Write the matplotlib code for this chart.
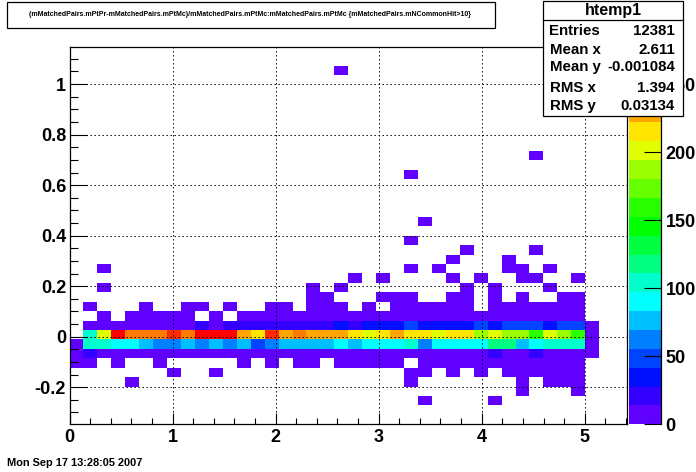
import matplotlib
matplotlib.use("Agg")
import matplotlib.pyplot as plt
from matplotlib.colors import ListedColormap, BoundaryNorm
from matplotlib.patches import Rectangle
import numpy as np

plt.rcParams['font.family'] = ['Liberation Sans', 'DejaVu Sans']
plt.rcParams['axes.unicode_minus'] = False

W, H = 696, 472
n_bins = 40
x_min, x_max = 0, 5.41
y_min, y_max = -0.347, 1.147
z_max = 277.4

title = "(mMatchedPairs.mPtPr-mMatchedPairs.mPtMc)/mMatchedPairs.mPtMc:mMatchedPairs.mPtMc {mMatchedPairs.mNCommonHit>10}"
date_label = "Mon Sep 17 13:28:05 2007"
x_ticks = [0, 1, 2, 3, 4, 5]
y_ticks = [-0.2, 0, 0.2, 0.4, 0.6, 0.8, 1]
y_labels = ['-0.2', '0', '0.2', '0.4', '0.6', '0.8', '1']
z_ticks = [0, 50, 100, 150, 200, 250]
stats_names = ['Entries', 'Mean x', 'Mean y', 'RMS x', 'RMS y']
stats_values = ['12381', '2.611', '-0.001084', '1.394', '0.03134']

# palette of the z axis, bottom to top
palette = ['#6000ff', '#3300ff', '#0010ff', '#0044ff', '#0080ff', '#00bfff', '#00ffff',
           '#00ffcc', '#00ff80', '#00ff40', '#00ff00', '#2aff00', '#66ff00', '#99ff00',
           '#e0ff00', '#ffe600', '#ffa600', '#ff7a00', '#ff2a00', '#ff0000']

# dense rows around zero, counts per x bin (first 38 bins, the rest are empty)
row_07 = [1, 20] + [5] * 28 + [20, 5, 5, 20, 5, 5, 5, 5]
row_08 = [5, 104, 104, 90, 90, 76, 62, 62, 76, 62, 76, 62, 76, 48, 62, 76, 76, 76, 76, 90,
          76, 90, 90, 90, 104, 62, 90, 90, 90, 90, 118, 118, 76, 90, 104, 104, 104, 5]
row_09 = [0, 104, 201, 270, 243, 243, 243, 257, 243, 270, 270, 270, 229, 215, 257, 229, 243, 229, 229, 229,
          215, 201, 215, 229, 215, 215, 201, 215, 215, 187, 201, 187, 187, 160, 201, 187, 160, 5]
row_10 = [0, 5, 5, 5, 5, 5, 5, 5, 5, 20, 5, 20, 20, 20, 20, 20, 20, 20, 20, 35,
          20, 35, 35, 35, 48, 35, 35, 35, 35, 48, 35, 48, 48, 48, 35, 48, 48, 5]

# sparse rows, x bins that hold a few entries
row_02 = [25, 30]
row_03 = [32, 36]
row_04 = [4, 24, 32, 34, 35, 36]
row_05 = [7, 10, 24, 25, 27, 29, 31, 32, 33, 34, 35, 36]
row_06 = [0, 1, 3, 6, 12, 14, 16, 17, 19, 20, 21, 22, 23, 25, 26, 27, 28, 29, 30, 31, 32, 33, 34, 35, 36]
row_11 = [2, 4, 5, 6, 7, 8, 10, 12, 13, 14, 15, 16, 17, 18, 19, 20, 21, 22, 23, 24, 25, 26, 27, 28, 29, 30,
          31, 32, 33, 34, 35, 36]
row_12 = [1, 5, 8, 9, 11, 14, 15, 17, 18, 19, 21, 23, 24, 25, 26, 27, 28, 30, 31, 32, 33, 34, 35, 36]
row_13 = [17, 18, 22, 23, 24, 27, 28, 30, 32, 35, 36]
row_14 = [2, 17, 19, 28, 30, 34]
row_15 = [20, 22, 27, 29, 32, 33, 36]
row_16 = [2, 24, 26, 31, 32, 34]
row_17 = [27, 31]
row_18 = [28, 33]
row_19 = [24]
row_21 = [25]
row_26 = [24]
row_28 = [33]
row_37 = [19]

counts = np.zeros((n_bins, n_bins))
for r, vals in [(7, row_07), (8, row_08), (9, row_09), (10, row_10)]:
    counts[r, :len(vals)] = vals
for r, cols in [(2, row_02), (3, row_03), (4, row_04), (5, row_05), (6, row_06), (11, row_11),
                (12, row_12), (13, row_13), (14, row_14), (15, row_15), (16, row_16), (17, row_17),
                (18, row_18), (19, row_19), (21, row_21), (26, row_26), (28, row_28), (37, row_37)]:
    counts[r, cols] = 3
counts = np.ma.masked_equal(counts, 0)


def box(l, t, r, b):
    # pixel box to figure fractions
    return [l / W, 1 - b / H, (r - l) / W, (b - t) / H]


fig = plt.figure(figsize=(W / 100, H / 100), dpi=100, facecolor='white')
ax = fig.add_axes(box(69.5, 47, 627, 424.3))

levels = np.linspace(0, z_max, len(palette) + 1)
cmap = ListedColormap(palette)
norm = BoundaryNorm(levels, cmap.N)
x_edges = np.linspace(x_min, x_max, n_bins + 1)
y_edges = np.linspace(y_min, y_max, n_bins + 1)
mesh = ax.pcolormesh(x_edges, y_edges, counts, cmap=cmap, norm=norm)

ax.set_xlim(x_min, x_max)
ax.set_ylim(y_min, y_max)
ax.set_xticks(x_ticks)
ax.set_xticks(np.arange(0, 5.41, 0.2), minor=True)
ax.set_yticks(y_ticks)
ax.set_yticklabels(y_labels)
ax.set_yticks(np.arange(-0.3, 1.14, 0.05), minor=True)
ax.tick_params(axis='x', which='major', direction='in', length=8, width=0.8, pad=3.5, labelsize=13)
ax.tick_params(axis='x', which='minor', direction='in', length=4, width=0.8)
ax.tick_params(axis='y', which='major', direction='in', length=12.5, width=0.8, pad=2.5, labelsize=13)
ax.tick_params(axis='y', which='minor', direction='in', length=6, width=0.8)
for lab in ax.get_xticklabels() + ax.get_yticklabels():
    lab.set_fontweight('bold')
ax.set_axisbelow(False)
ax.grid(True, which='major', color='black', linewidth=0.72, linestyle=(0, (1.4, 2.6)))
for s in ax.spines.values():
    s.set_linewidth(0.9)

# z axis
cax = fig.add_axes(box(629, 47, 661.3, 424.3))
cb = fig.colorbar(mesh, cax=cax, spacing='proportional', ticks=z_ticks)
cb.outline.set_visible(False)
cax.minorticks_off()
cax.spines['right'].set_visible(True)
cax.spines['right'].set_linewidth(0.9)
cax.tick_params(axis='y', direction='in', length=12.5, width=0.8, pad=3, labelsize=13)
for lab in cax.get_yticklabels():
    lab.set_fontweight('bold')

# title box
fig.add_artist(Rectangle((7 / W, 1 - 28 / H), 487.5 / W, 26 / H, transform=fig.transFigure,
                         facecolor='white', edgecolor='black', linewidth=0.9))
fig.text(250 / W, 1 - 15 / H, title, ha='center', va='center', fontsize=5.0, fontweight='bold')

# stats box
fig.add_artist(Rectangle((543 / W, 1 - 115.5 / H), 140 / W, 114.5 / H, transform=fig.transFigure,
                         facecolor='white', edgecolor='black', linewidth=0.9, zorder=5))
fig.add_artist(plt.Line2D([543 / W, 683 / W], [1 - 20 / H, 1 - 20 / H], color='black', linewidth=0.9, zorder=6))
fig.text(613 / W, 1 - 11 / H, 'htemp1', ha='center', va='center', fontsize=11.5, fontweight='bold', zorder=6)
stat_rows = [31, 50, 67, 88, 106]
for name, val, py in zip(stats_names, stats_values, stat_rows):
    fig.text(549.5 / W, 1 - py / H, name, ha='left', va='center', fontsize=10.8, fontweight='bold', zorder=6)
    fig.text(675 / W, 1 - py / H, val, ha='right', va='center', fontsize=10.8, fontweight='bold', zorder=6)

fig.text(7 / W, 1 - 463 / H, date_label, ha='left', va='center', fontsize=7.9, fontweight='bold')

fig.savefig('out.png', dpi=100)
